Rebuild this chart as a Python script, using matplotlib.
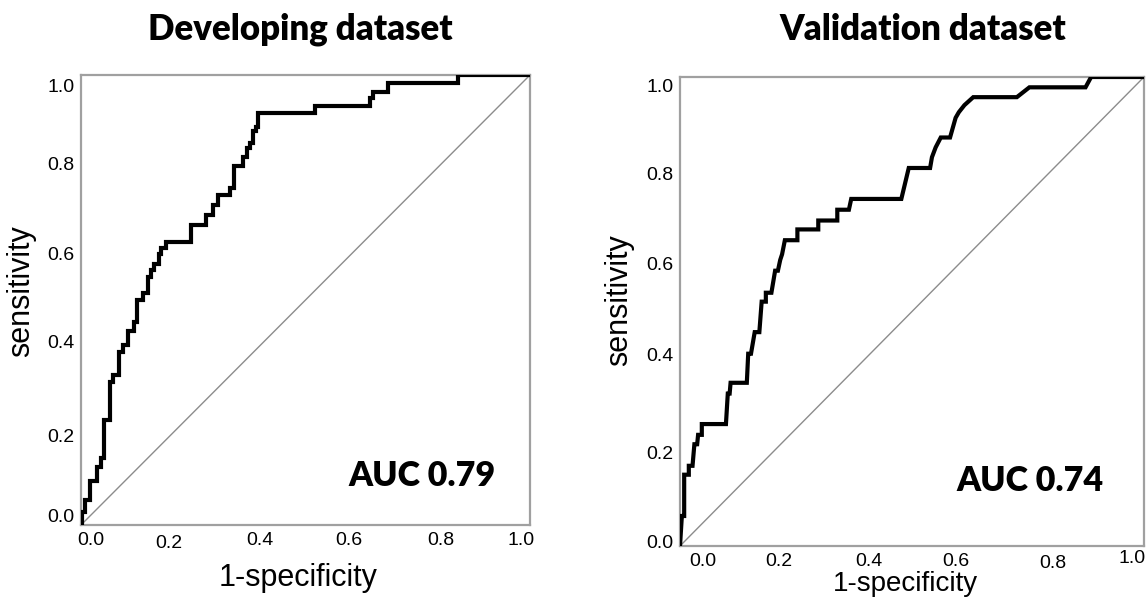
import matplotlib
matplotlib.use("Agg")
import matplotlib.pyplot as plt
from matplotlib.transforms import ScaledTranslation

# ---------------- data ----------------
tick_values = [0.0, 0.2, 0.4, 0.6, 0.8, 1.0]
tick_labels = ["0.0", "0.2", "0.4", "0.6", "0.8", "1.0"]

titles = ["Developing dataset", "Validation dataset"]
auc_texts = ["AUC 0.79", "AUC 0.74"]
x_label = "1-specificity"
y_label = "sensitivity"

# Developing dataset ROC (step vertices: fpr, tpr after each step)
dev_fpr = [0.0, 0.002, 0.010, 0.020, 0.035, 0.045, 0.052, 0.064, 0.072, 0.084,
           0.093, 0.104, 0.117, 0.125, 0.137, 0.149, 0.157, 0.163, 0.173, 0.179,
           0.189, 0.245, 0.279, 0.295, 0.306, 0.331, 0.340, 0.360, 0.370, 0.376,
           0.384, 0.390, 0.394, 0.522, 0.644, 0.651, 0.683, 0.839, 1.0]
dev_tpr = [0.0, 0.030, 0.055, 0.098, 0.130, 0.150, 0.233, 0.317, 0.333, 0.384,
           0.400, 0.432, 0.452, 0.500, 0.515, 0.551, 0.567, 0.580, 0.602, 0.616,
           0.630, 0.666, 0.690, 0.711, 0.733, 0.749, 0.797, 0.817, 0.837, 0.848,
           0.876, 0.884, 0.916, 0.932, 0.948, 0.963, 0.982, 1.0, 1.0]

# Validation dataset ROC (polyline vertices)
val_fpr = [0.0, 0.004, 0.009, 0.009, 0.019, 0.019, 0.027, 0.031, 0.037, 0.039,
           0.047, 0.047, 0.099, 0.103, 0.107, 0.109, 0.144, 0.147, 0.153, 0.157,
           0.161, 0.171, 0.176, 0.185, 0.185, 0.197, 0.205, 0.211, 0.216, 0.220,
           0.226, 0.253, 0.253, 0.298, 0.298, 0.339, 0.339, 0.364, 0.369, 0.477,
           0.493, 0.539, 0.543, 0.551, 0.562, 0.582, 0.594, 0.601, 0.613, 0.632,
           0.726, 0.753, 0.874, 0.886, 1.0]
val_tpr = [0.0, 0.064, 0.064, 0.152, 0.152, 0.171, 0.171, 0.217, 0.217, 0.237,
           0.237, 0.260, 0.260, 0.325, 0.325, 0.348, 0.348, 0.410, 0.410, 0.433,
           0.456, 0.456, 0.521, 0.521, 0.540, 0.540, 0.587, 0.587, 0.610, 0.622,
           0.652, 0.652, 0.675, 0.675, 0.694, 0.694, 0.717, 0.717, 0.740, 0.740,
           0.806, 0.806, 0.829, 0.850, 0.871, 0.871, 0.913, 0.925, 0.940, 0.957,
           0.957, 0.978, 0.978, 1.0, 1.0]

# ---------------- figure ----------------
W, H = 1146, 601
fig = plt.figure(figsize=(W / 100, H / 100), dpi=100)
fig.patch.set_facecolor("white")

ax1 = fig.add_axes([81 / W, (H - 525) / H, 449 / W, 450 / H])
ax2 = fig.add_axes([680 / W, (H - 546) / H, 464 / W, 469 / H])

sans = ["Liberation Sans", "DejaVu Sans"]
tick_font = dict(family=sans, size=14)
bold_font = dict(family=["Lato", "DejaVu Sans"], weight="heavy")

ax1.plot(dev_fpr, dev_tpr, drawstyle="steps-post", color="black", lw=3.0,
         solid_joinstyle="miter", zorder=3)
ax2.plot(val_fpr, val_tpr, color="black", lw=3.0, solid_joinstyle="miter", zorder=3)

for ax in (ax1, ax2):
    ax.plot([0, 1], [0, 1], color="#8c8c8c", lw=1.0, zorder=2)
    ax.set_xlim(0, 1)
    ax.set_ylim(0, 1)
    for s in ax.spines.values():
        s.set_color("#a0a0a0")
        s.set_linewidth(1.6)
    ax.set_xticks(tick_values)
    ax.set_yticks(tick_values)
    ax.set_xticklabels(tick_labels, **tick_font)
    ax.set_yticklabels(tick_labels, **tick_font)
    ax.tick_params(length=0)
    ax.set_ylabel(y_label, family=sans, size=22)

ax1.set_xlabel(x_label, family=sans, size=22)
ax2.set_xlabel(x_label, family=sans, size=20)

ax1.tick_params(axis="x", pad=5)
ax1.tick_params(axis="y", pad=4.5)
ax2.tick_params(axis="x", pad=5)
ax2.tick_params(axis="y", pad=4.5)

ax1.xaxis.set_label_coords(0.483, -0.084)
ax1.yaxis.set_label_coords(-0.100, 0.52)
ax2.xaxis.set_label_coords(0.485, -0.054)
ax2.yaxis.set_label_coords(-0.099, 0.525)

ax1.text(0.924, 0.087, auc_texts[0], transform=ax1.transAxes, ha="right",
         va="baseline", size=24.5, **bold_font)
ax2.text(0.912, 0.117, auc_texts[1], transform=ax2.transAxes, ha="right",
         va="baseline", size=24.5, **bold_font)

fig.text(300 / W, 1 - 40 / H, titles[0], ha="center", va="baseline", size=25, **bold_font)
fig.text(923 / W, 1 - 40 / H, titles[1], ha="center", va="baseline", size=25, **bold_font)

# small per-label offsets (pixels: dx right, dy down) to mimic the source layout
def shift(labels, offsets):
    for lab, (dx, dy) in zip(labels, offsets):
        lab.set_transform(lab.get_transform() +
                          ScaledTranslation(dx / 100, -dy / 100, fig.dpi_scale_trans))

fig.canvas.draw()
shift(ax1.get_xticklabels(), [(10, 0), (-2, 3), (-1, 0), (-2, 0), (1, 0), (-9, 0)])
shift(ax1.get_yticklabels(), [(0, -10), (0, 0), (0, -3), (0, -1), (0, -2), (0, 10)])
shift(ax2.get_xticklabels(), [(23, 0), (6, 0), (3, 0), (-3, 0), (2, 2), (-12, -3)])
shift(ax2.get_yticklabels(), [(0, -4), (0, 0), (0, -4), (0, -1), (0, 3), (0, 8)])

fig.savefig("out.png", dpi=100, facecolor="white")
